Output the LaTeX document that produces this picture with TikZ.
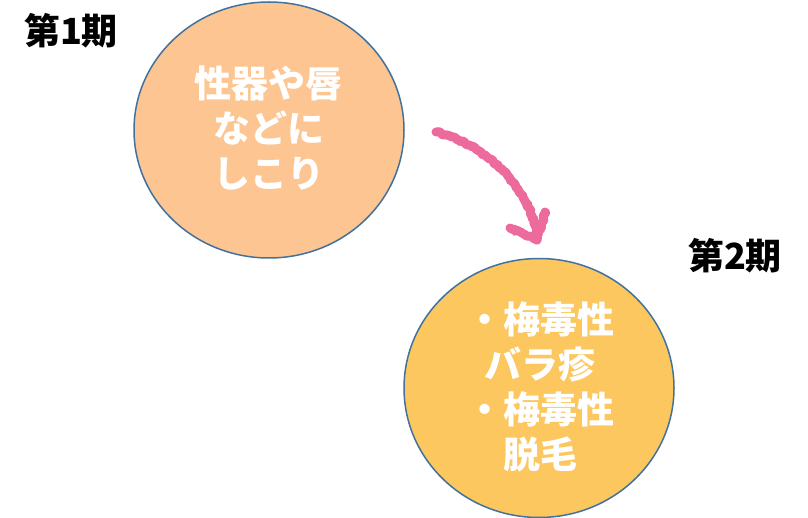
\documentclass[tikz,border=0pt]{standalone}
\usepackage{fontspec}
\newfontfamily\jp{Noto Sans CJK JP}
\usetikzlibrary{shapes.geometric,decorations.pathmorphing}
\definecolor{peach}{HTML}{FCC591}
\definecolor{gold}{HTML}{FCC75F}
\definecolor{rim}{HTML}{41719C}
\definecolor{crayon}{HTML}{EC6A9C}
\tikzset{
  blob/.style={ellipse, draw=rim, line width=1.5pt, inner sep=0pt},
  intext/.style={text=white, font=\jp\bfseries\fontsize{37}{45}\selectfont, align=center, inner sep=0pt},
  stage/.style={text=black, font=\jp\bfseries\fontsize{36}{40}\selectfont, inner sep=0pt},
  crayonline/.style={draw=crayon, line width=9pt, line cap=round, line join=round,
    decorate, decoration={random steps, segment length=2pt, amplitude=1pt}}
}
\begin{document}
\begin{tikzpicture}[x=1pt,y=-1pt]
\useasboundingbox (0,0) rectangle (808,518);
\node[blob, fill=peach, minimum width=270pt, minimum height=256pt] (c1) at (269,130) {};
\node[blob, fill=gold, minimum width=270pt, minimum height=259pt] (c2) at (539,388) {};
\node[intext] (t1) at (268.5,128) {性器や唇\\などに\\しこり};
\node[intext] (t2) at (540,387) {・梅毒性\\バラ疹\\・梅毒性\\脱毛};
\node[stage] (s1) at (71,31) {第1期};
\node[stage] (s2) at (735,256) {第2期};
\coordinate (a0) at (436,132);
\coordinate (tip) at (537,240);
\coordinate (la) at (510,228);
\coordinate (ra) at (545,212);
\draw[crayonline] (a0) .. controls (490,145) and (535,195) .. (tip);
\draw[crayonline] (la) -- (tip) -- (ra);
\end{tikzpicture}
\end{document}
